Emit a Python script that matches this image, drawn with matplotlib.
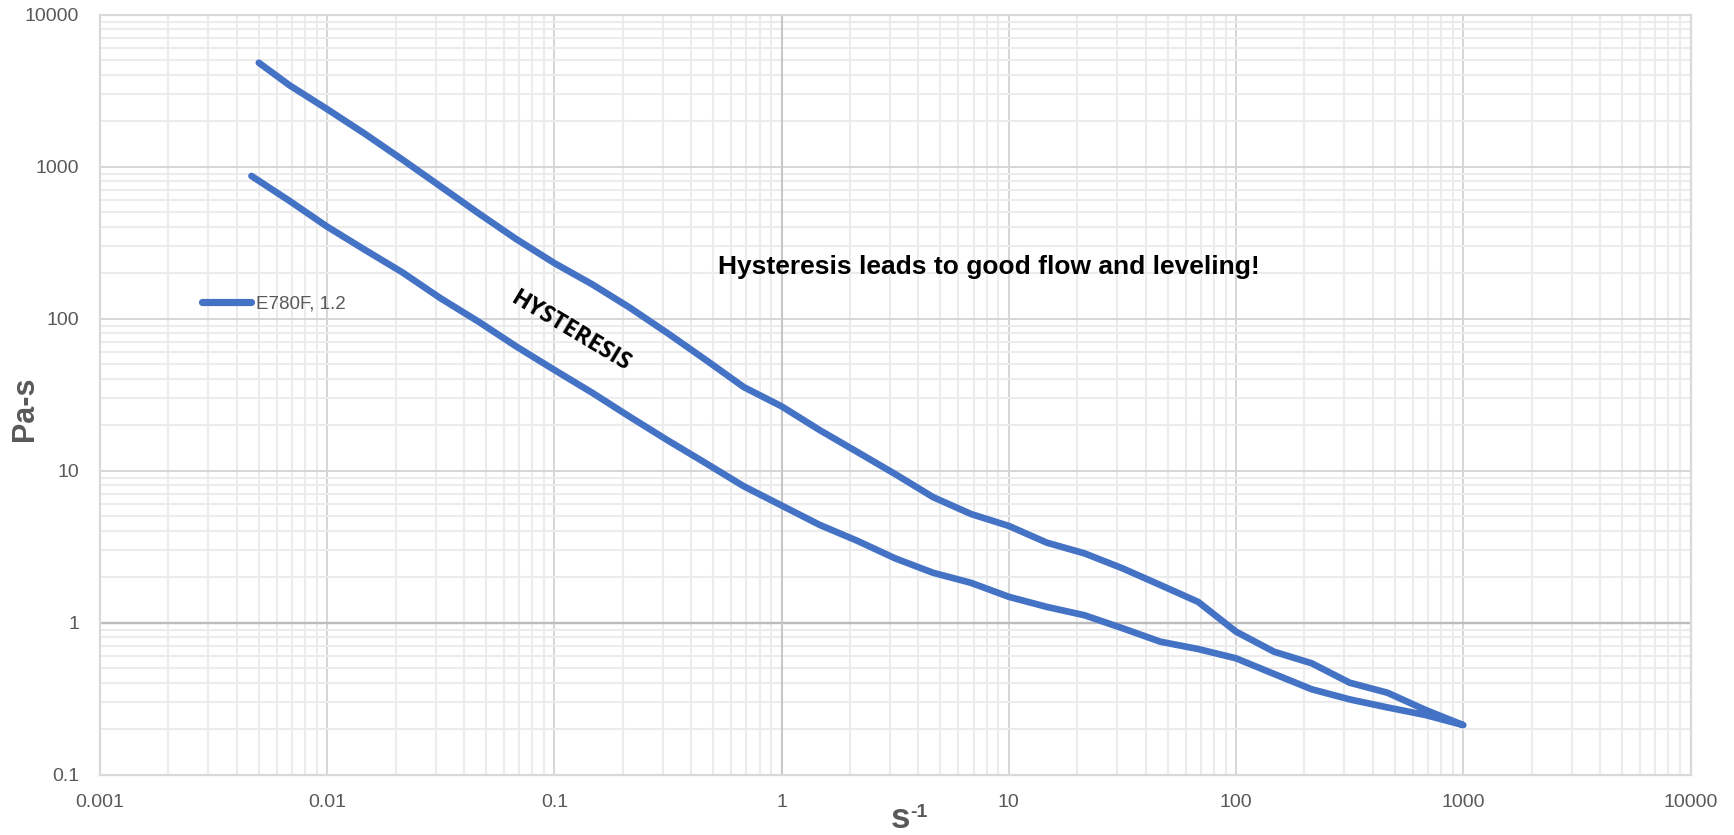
import matplotlib
matplotlib.use("Agg")
import matplotlib.pyplot as plt
from matplotlib.ticker import FixedLocator, FixedFormatter, LogLocator, NullFormatter
import numpy as np

# ---- data ----
shear_up = [0.005, 0.00681, 0.01, 0.0147, 0.0215, 0.0316, 0.0464, 0.0681, 0.1, 0.147,
            0.215, 0.316, 0.464, 0.681, 1, 1.47, 2.15, 3.16, 4.64, 6.81, 10, 14.7,
            21.5, 31.6, 46.4, 68.1, 100, 147, 215, 316, 464, 681, 1000]
visc_up = [4830, 3440, 2390, 1640, 1110, 740, 493, 333, 232, 168,
           118, 80, 53.5, 35.5, 26.5, 18.5, 13.3, 9.5, 6.7, 5.19, 4.33, 3.36,
           2.86, 2.28, 1.77, 1.37, 0.873, 0.644, 0.541, 0.403, 0.346, 0.267, 0.212]
shear_down = [681, 464, 316, 215, 147, 100, 68.1, 46.4, 31.6, 21.5, 14.7, 10, 6.81,
              4.64, 3.16, 2.15, 1.47, 1, 0.681, 0.464, 0.316, 0.215, 0.147, 0.1,
              0.0681, 0.0464, 0.0316, 0.0215, 0.0147, 0.01, 0.00681, 0.00464]
visc_down = [0.247, 0.277, 0.313, 0.365, 0.46, 0.583, 0.671, 0.75, 0.92, 1.12, 1.27, 1.48, 1.83,
             2.13, 2.65, 3.46, 4.4, 5.9, 7.9, 11.2, 15.8, 22.6, 32.5, 46,
             65.5, 95.5, 136, 201, 283, 403, 597, 869]
series_name = "E780F, 1.2"
x_ticks = [0.001, 0.01, 0.1, 1, 10, 100, 1000, 10000]
x_tick_labels = ["0.001", "0.01", "0.1", "1", "10", "100", "1000", "10000"]
y_ticks = [0.1, 1, 10, 100, 1000, 10000]
y_tick_labels = ["0.1", "1", "10", "100", "1000", "10000"]

x_all = shear_up + shear_down
y_all = visc_up + visc_down

W, H = 1734, 835
fig = plt.figure(figsize=(W / 100, H / 100), dpi=100)
L, R, T, B = 100.0, 1690.5, 14.7, 774.7
ax = fig.add_axes([L / W, 1 - B / H, (R - L) / W, (B - T) / H])

ax.set_xscale("log")
ax.set_yscale("log")
ax.set_xlim(0.001, 10000)
ax.set_ylim(0.1, 10000)

gray_txt = "#595959"
fam = ["Liberation Sans", "DejaVu Sans"]
ax.xaxis.set_major_locator(FixedLocator(x_ticks))
ax.xaxis.set_major_formatter(FixedFormatter(x_tick_labels))
ax.yaxis.set_major_locator(FixedLocator(y_ticks))
ax.yaxis.set_major_formatter(FixedFormatter(y_tick_labels))
ax.xaxis.set_minor_locator(LogLocator(base=10, subs=np.arange(2, 10), numticks=100))
ax.yaxis.set_minor_locator(LogLocator(base=10, subs=np.arange(2, 10), numticks=100))
ax.xaxis.set_minor_formatter(NullFormatter())
ax.yaxis.set_minor_formatter(NullFormatter())

ax.tick_params(which="both", length=0)
ax.tick_params(axis="x", which="major", pad=14, labelsize=14, labelcolor=gray_txt)
ax.tick_params(axis="y", which="major", pad=15, labelsize=14, labelcolor=gray_txt)
for lab in ax.get_xticklabels() + ax.get_yticklabels():
    lab.set_family(fam)

ax.grid(which="minor", color="#ececec", linewidth=1.5)
ax.grid(which="major", color="#d6d6d6", linewidth=1.4)
ax.set_axisbelow(True)
ax.axhline(1, color="#bcbcbc", linewidth=1.7, zorder=1)
ax.axvline(1, color="#c8c8c8", linewidth=1.5, zorder=1)
for s in ax.spines.values():
    s.set_color("#d9d9d9")
    s.set_linewidth(1.6)

ax.plot(x_all, y_all, color="#4472C4", linewidth=4.8,
        solid_joinstyle="round", solid_capstyle="round", label=series_name, zorder=3)

leg = ax.legend(loc="center left", bbox_to_anchor=((202 - L) / (R - L), (B - 304) / (B - T)),
                frameon=False, borderpad=0, borderaxespad=0, handlelength=2.6,
                handletextpad=0.3, prop={"family": fam, "size": 13.5})
for t in leg.get_texts():
    t.set_color(gray_txt)
for h in leg.get_lines():
    h.set_linewidth(5.2)

fig.text(718 / W, 1 - 267 / H, "Hysteresis leads to good flow and leveling!",
         ha="left", va="center", fontsize=19, fontweight="bold", color="black", family=fam)
fig.text(571 / W, 1 - 332 / H, "HYSTERESIS", ha="center", va="center",
         rotation=-31, rotation_mode="anchor", fontsize=17, fontweight="bold",
         color="black", family=["Open Sans", "DejaVu Sans"])

fig.text(25 / W, 1 - 409 / H, "Pa-s", rotation=90, ha="center", va="center",
         fontsize=22, fontweight="bold", color=gray_txt, family=fam)
fig.text(900.5 / W, 1 - 828 / H, "s", ha="center", va="baseline",
         fontsize=25, fontweight="bold", color=gray_txt, family=fam)
fig.text(910.5 / W, 1 - 817 / H, "-1", ha="left", va="baseline",
         fontsize=14, fontweight="bold", color=gray_txt, family=fam)

fig.savefig("out.png", dpi=100)
